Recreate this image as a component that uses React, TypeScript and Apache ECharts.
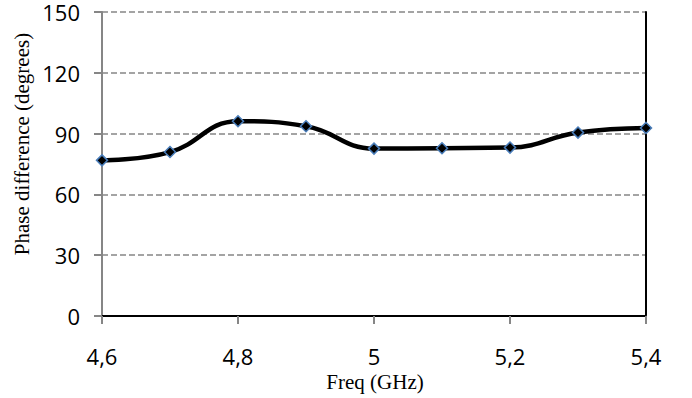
import React, { useEffect, useRef } from "react";
import * as echarts from "echarts";

const categories = ["4,6", "4,7", "4,8", "4,9", "5", "5,1", "5,2", "5,3", "5,4"];
const phaseDiff = [76.8, 80.9, 96.1, 93.6, 82.6, 82.8, 83.1, 90.5, 92.8];
const yMin = 0;
const yMax = 150;
const yInterval = 30;
const yTitle = "Phase difference (degrees)";
const xTitle = "Freq (GHz)";

export default function App() {
  const ref = useRef<HTMLDivElement>(null);
  useEffect(() => {
    if (!ref.current) return;
    const chart = echarts.init(ref.current, null, { renderer: "svg" });
    const tickFont = { fontFamily: "Open Sans", fontSize: 22, color: "#000", lineHeight: 22 };
    chart.setOption({
      animation: false,
      backgroundColor: "#fff",
      grid: { left: 102, right: 46, top: 12, bottom: 82, containLabel: false },
      xAxis: [
        {
          type: "category",
          data: categories,
          boundaryGap: false,
          axisLine: { lineStyle: { color: "#868686", width: 2 } },
          axisTick: { show: true, interval: 1, length: 8, lineStyle: { color: "#868686", width: 2 } },
          axisLabel: { interval: 1, margin: 29, ...tickFont },
          splitLine: { show: false },
        },
        {
          type: "category",
          data: categories,
          boundaryGap: false,
          position: "top",
          axisLine: { lineStyle: { color: "#000", width: 2 } },
          axisTick: { show: false },
          axisLabel: { show: false },
          splitLine: { show: false },
        },
      ],
      yAxis: [
        {
          type: "value",
          min: yMin,
          max: yMax,
          interval: yInterval,
          axisLine: { show: true, lineStyle: { color: "#868686", width: 2 } },
          axisTick: { show: true, length: 8, lineStyle: { color: "#868686", width: 2 } },
          axisLabel: { margin: 22, ...tickFont },
          splitLine: { show: true, lineStyle: { color: "#868686", width: 1.5, type: [6, 3] } },
        },
        {
          type: "value",
          min: yMin,
          max: yMax,
          interval: yInterval,
          position: "right",
          axisLine: { show: true, lineStyle: { color: "#000", width: 2 } },
          axisTick: { show: false },
          axisLabel: { show: false },
          splitLine: { show: false },
        },
      ],
      graphic: [
        {
          type: "text",
          x: 22,
          y: 144,
          rotation: Math.PI / 2,
          style: {
            text: yTitle,
            fontFamily: "Liberation Serif",
            fontSize: 21,
            fill: "#000",
            align: "center",
            verticalAlign: "middle",
          },
        },
        {
          type: "text",
          x: 375,
          y: 382,
          style: {
            text: xTitle,
            fontFamily: "Liberation Serif",
            fontSize: 21,
            fill: "#000",
            align: "center",
            verticalAlign: "middle",
          },
        },
      ],
      series: [
        {
          type: "line",
          data: phaseDiff,
          smooth: 0.45,
          symbol: "diamond",
          symbolSize: 11,
          lineStyle: { color: "#000", width: 4.5 },
          itemStyle: { color: "#000", borderColor: "#4A7EBB", borderWidth: 1.5 },
          z: 5,
        },
      ],
    });
    return () => chart.dispose();
  }, []);
  return <div ref={ref} style={{ width: 692, height: 398, position: "absolute", left: 0, top: 0 }} />;
}
